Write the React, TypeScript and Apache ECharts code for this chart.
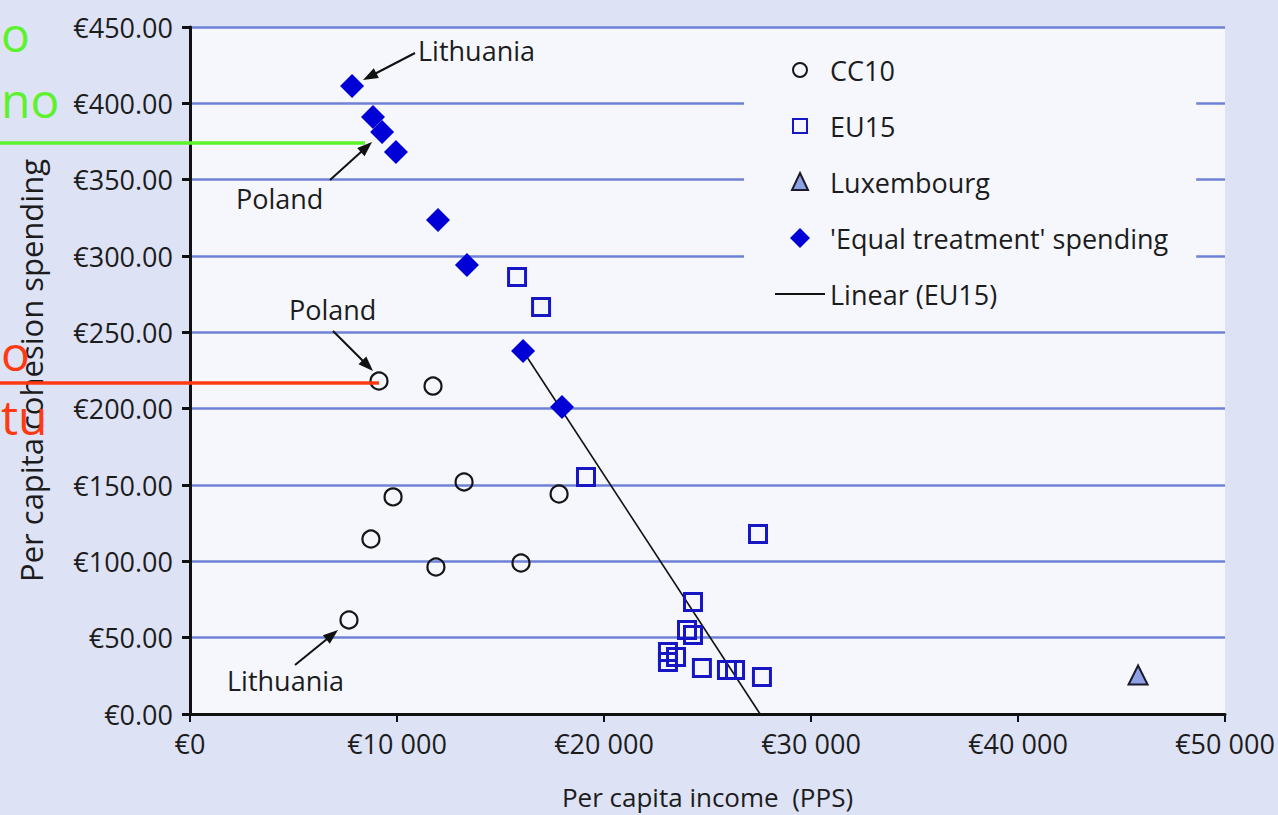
import React, { useEffect, useRef } from 'react';
import * as echarts from 'echarts';

// CC10 (candidate countries) — per capita income (PPS) vs per capita cohesion spending
const cc10Income = [7680, 8740, 9130, 9810, 11740, 11880, 13240, 15990, 17830];
const cc10Spending = [61.6, 114.6, 218.1, 142.2, 214.8, 96.3, 152.0, 98.9, 144.1];

// EU15 (excluding Luxembourg)
const eu15Income = [15800, 16960, 19130, 27440, 24300, 24010, 24300, 23090, 23480, 23090, 24730, 25940, 26330, 27630];
const eu15Spending = [286.2, 266.6, 155.2, 117.9, 73.4, 55.0, 51.7, 40.6, 37.3, 34.1, 30.1, 28.8, 28.8, 24.2];

// Luxembourg
const luxIncome = [45800];
const luxSpending = [25.5];

// 'Equal treatment' spending
const equalIncome = [7830, 8840, 9280, 9950, 11980, 13380, 16090, 17970];
const equalSpending = [411.3, 391.0, 381.2, 368.1, 323.6, 294.1, 237.8, 201.1];

// Linear (EU15) trend line end points
const trendIncome = [16090, 27540];
const trendSpending = [237.8, 0];

const seriesNames = ['CC10', 'EU15', 'Luxembourg', "'Equal treatment' spending", 'Linear (EU15)'];
const xTicks = [0, 10000, 20000, 30000, 40000, 50000];

const FONT = "'Open Sans', 'DejaVu Sans', sans-serif";
const TEXT = '#1c1c1c';

// legend icons drawn inside a 50x20 box so that symbols keep their shape
const BOX = 'path://M0,0M50,20';
const legendIcons = [
  BOX + 'M32,10A7,7,0,1,1,18,10A7,7,0,1,1,32,10Z',
  BOX + 'M18,3H32V17H18Z',
  BOX + 'M25,1L33,18H17Z',
  BOX + 'M25,0L35,10L25,20L15,10Z',
  BOX + 'M0,9H50V11H0Z',
];

function zip(a: number[], b: number[]) {
  return a.map((v, i) => [v, b[i]]);
}

function arrow(tx: number, ty: number, hx: number, hy: number) {
  const dx = hx - tx;
  const dy = hy - ty;
  const L = Math.sqrt(dx * dx + dy * dy);
  const ux = dx / L;
  const uy = dy / L;
  const len = 15;
  const w = 5.5;
  const bx = hx - ux * len;
  const by = hy - uy * len;
  const px = -uy;
  const py = ux;
  return [
    {
      type: 'line',
      shape: { x1: tx, y1: ty, x2: bx + ux * 2, y2: by + uy * 2 },
      style: { stroke: '#111', lineWidth: 2 },
      z: 50,
    },
    {
      type: 'polygon',
      shape: {
        points: [
          [hx, hy],
          [bx + px * w, by + py * w],
          [bx - px * w, by - py * w],
        ],
      },
      style: { fill: '#111' },
      z: 50,
    },
  ];
}

function label(text: string, x: number, y: number) {
  return {
    type: 'text',
    x,
    y,
    z: 50,
    style: {
      text,
      fill: TEXT,
      font: `27px ${FONT}`,
      verticalAlign: 'middle',
      align: 'left',
    },
  };
}

function overlayText(text: string, x: number, y: number, color: string) {
  return {
    type: 'text',
    x,
    y,
    z: 60,
    style: { text, fill: color, font: `48px ${FONT}`, verticalAlign: 'middle', align: 'left' },
  };
}

function fmtIncome(v: number) {
  if (v === 0) return '€0';
  const s = String(Math.round(v));
  return '€' + s.slice(0, s.length - 3) + ' ' + s.slice(s.length - 3);
}

export default function App() {
  const ref = useRef<HTMLDivElement>(null);

  useEffect(() => {
    const chart = echarts.init(ref.current!, null, { renderer: 'svg' });

    const option: any = {
      animation: false,
      backgroundColor: '#dde2f5',
      textStyle: { fontFamily: FONT },
      grid: {
        left: 190,
        right: 53,
        top: 27,
        bottom: 101,
        show: true,
        backgroundColor: '#f6f7fc',
        borderWidth: 0,
      },
      legend: {
        data: seriesNames.map((n, i) => ({ name: n, icon: legendIcons[i] })),
        orient: 'vertical',
        left: 744,
        top: 37,
        padding: [18, 28, 14, 30],
        backgroundColor: '#f6f7fc',
        itemWidth: 50,
        itemHeight: 20,
        itemGap: 26,
        textStyle: { fontSize: 27, color: TEXT, fontFamily: FONT, lineHeight: 30 },
        z: 20,
      },
      xAxis: {
        type: 'value',
        min: 0,
        max: 50000,
        interval: 10000,
        name: 'Per capita income  (PPS)',
        nameLocation: 'middle',
        nameGap: 70,
        nameTextStyle: { fontSize: 26, color: TEXT, fontFamily: FONT },
        axisLine: { show: true, onZero: false, lineStyle: { color: '#111', width: 3 } },
        axisTick: { show: true, length: 8, lineStyle: { color: '#111', width: 2 } },
        axisLabel: {
          margin: 16,
          fontSize: 27,
          color: TEXT,
          fontFamily: FONT,
          formatter: (v: number) => fmtIncome(v),
          customValues: xTicks,
        },
        splitLine: { show: false },
      },
      yAxis: {
        type: 'value',
        min: 0,
        max: 450,
        interval: 50,
        name: 'Per capita cohesion spending',
        nameLocation: 'middle',
        nameGap: 144,
        nameTextStyle: { fontSize: 31, color: TEXT, fontFamily: FONT },
        axisLine: { show: true, onZero: false, lineStyle: { color: '#111', width: 3 } },
        axisTick: { show: true, length: 8, lineStyle: { color: '#111', width: 3 } },
        axisLabel: {
          margin: 17,
          fontSize: 27,
          color: TEXT,
          fontFamily: FONT,
          formatter: (v: number) => '€' + v.toFixed(2),
        },
        splitLine: { show: true, lineStyle: { color: '#6f82d8', width: 2.5 } },
      },
      series: [
        {
          name: 'CC10',
          type: 'scatter',
          symbol: 'circle',
          symbolSize: 17,
          data: zip(cc10Income, cc10Spending),
          itemStyle: { color: 'rgba(255,255,255,0)', borderColor: '#151515', borderWidth: 2.2, opacity: 1 },
          z: 5,
        },
        {
          name: 'EU15',
          type: 'scatter',
          symbol: 'rect',
          symbolSize: 17,
          data: zip(eu15Income, eu15Spending),
          itemStyle: { color: 'rgba(255,255,255,0)', borderColor: '#1616c4', borderWidth: 3, opacity: 1 },
          z: 5,
        },
        {
          name: 'Luxembourg',
          type: 'scatter',
          symbol: 'triangle',
          symbolSize: [19, 19],
          data: zip(luxIncome, luxSpending),
          itemStyle: { color: '#8ea0e6', borderColor: '#1a1a2a', borderWidth: 2, opacity: 1 },
          z: 5,
        },
        {
          name: "'Equal treatment' spending",
          type: 'scatter',
          symbol: 'diamond',
          symbolSize: [24, 24],
          data: zip(equalIncome, equalSpending),
          itemStyle: { color: '#0000d6', opacity: 1 },
          z: 6,
        },
        {
          name: 'Linear (EU15)',
          type: 'line',
          symbol: 'none',
          data: zip(trendIncome, trendSpending),
          lineStyle: { color: '#111', width: 1.6 },
          itemStyle: { color: '#111' },
          z: 4,
        },
      ],
      graphic: [
        label('Lithuania', 418, 50),
        ...arrow(415, 53, 363, 80),
        label('Poland', 236, 198),
        ...arrow(330, 180, 372, 142),
        label('Poland', 289, 309),
        ...arrow(333, 331, 373, 371),
        label('Lithuania', 227, 680),
        ...arrow(295, 665, 338, 630),
        // overlay annotations (slide markings)
        {
          type: 'line',
          shape: { x1: 0, y1: 143, x2: 365, y2: 143 },
          style: { stroke: '#5cf22c', lineWidth: 3.5 },
          z: 60,
        },
        {
          type: 'line',
          shape: { x1: 0, y1: 383, x2: 379, y2: 383 },
          style: { stroke: '#ff3a12', lineWidth: 3.5 },
          z: 60,
        },
        overlayText('o', 1, 33, '#5cf22c'),
        overlayText('no', 1, 99, '#5cf22c'),
        overlayText('o', 1, 352, '#ff3a12'),
        overlayText('tu', 1, 416, '#ff3a12'),
      ],
    };

    chart.setOption(option);
    return () => chart.dispose();
  }, []);

  return (
    <div
      ref={ref}
      style={{ position: 'fixed', left: 0, top: 0, width: 1278, height: 815 }}
    />
  );
}
